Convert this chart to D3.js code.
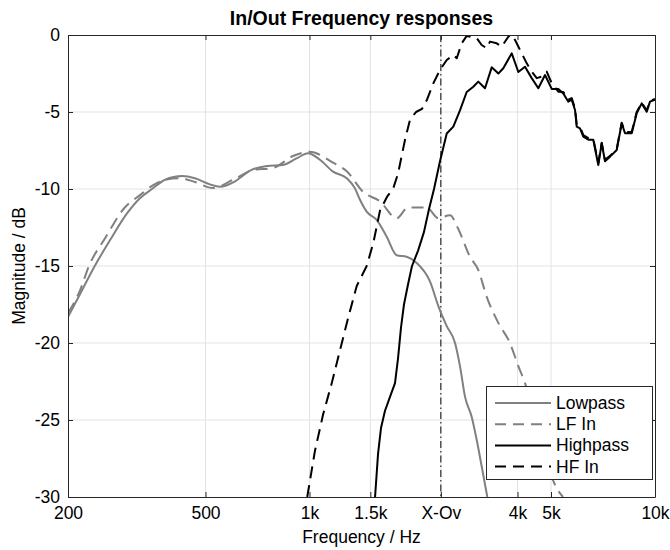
<!DOCTYPE html>
<html><head><meta charset="utf-8">
<script src="https://cdn.jsdelivr.net/npm/d3@7"></script>
<style>
body{margin:0;background:#fff;}
text{font-family:"Liberation Sans",Arial,Helvetica,sans-serif;}
</style></head>
<body><svg id="chart" width="670" height="550"></svg>
<script>
// ---- data ----
const xTickValues = [200, 500, 1000, 1500, 2400, 4000, 5000, 10000];
const xTickLabels = ["200", "500", "1k", "1.5k", "X-Ov", "4k", "5k", "10k"];
const yTickValues = [0, -5, -10, -15, -20, -25, -30];
const yTickLabels = ["0", "-5", "-10", "-15", "-20", "-25", "-30"];
const crossoverHz = 2400;

const lowpassHz = [200,217,239,265,296,323,350,382,428,466,515,551,609,673,753,838,920,990,1072,1170,1282,1354,1400,1464,1565,1673,1788,1911,2043,2232,2360,2496,2638,2726,2820,2948,3048,3150,3271];
const lowpassDb = [-18.3,-16.8,-15.0,-13.3,-11.6,-10.6,-10.0,-9.4,-9.16,-9.3,-9.7,-9.85,-9.5,-8.8,-8.5,-8.44,-8.0,-7.68,-8.1,-8.87,-9.3,-9.96,-10.7,-11.47,-12.0,-13.1,-14.3,-14.4,-14.8,-16.0,-17.6,-18.9,-20.0,-21.5,-23.5,-24.8,-26.3,-28.0,-30.0];

const lfInHz = [200,217,230,256,292,323,350,382,422,466,526,601,686,784,896,1000,1170,1284,1431,1600,1788,1928,2184,2360,2550,2696,2914,3080,3258,3521,3803,4022,4205,4436,4679,4936,5171,5417];
const lfInDb = [-18.05,-16.55,-15.0,-13.2,-11.2,-10.4,-9.8,-9.4,-9.3,-9.55,-9.94,-9.4,-8.77,-8.64,-7.86,-7.58,-8.29,-8.87,-10.2,-10.8,-11.9,-11.2,-11.2,-11.9,-11.7,-12.6,-14.4,-15.26,-17.0,-18.7,-20.0,-21.5,-22.6,-24.2,-26.3,-28.2,-29.35,-30.0];

const highpassHz = [1548,1579,1611,1654,1710,1768,1804,1840,1877,1928,1980,2062,2144,2218,2293,2386,2496,2608,2726,2851,2980,3080,3221,3368,3521,3639,3849,4022,4205,4397,4595,4805,5024,5250,5428,5612,5740,5868,5935,6066,6202,6412,6628,6853,7010,7167,7410,7748,8010,8190,8564,8851,9152,9464,9672,10000];
const highpassDb = [-30,-27.2,-25.5,-24.4,-23.5,-22.6,-21.0,-19.0,-17.5,-16.2,-15.0,-14.0,-12.8,-11.3,-10.0,-8.2,-6.4,-5.95,-4.9,-3.7,-3.36,-3.03,-3.46,-2.1,-2.5,-2.16,-1.19,-2.4,-2.06,-2.8,-3.46,-2.6,-3.5,-3.5,-3.8,-4.33,-4.2,-4.87,-5.95,-6.06,-6.6,-6.8,-6.8,-8.44,-7.03,-8.2,-7.9,-7.47,-5.73,-6.38,-6.38,-5.08,-4.44,-4.98,-4.33,-4.2];

const hfInHz = [985,1037,1096,1160,1226,1296,1370,1464,1530,1600,1677,1745,1804,1890,1954,2034,2116,2188,2282,2386,2496,2608,2668,2758,2851,3048,3150,3258,3330,3482,3600,3762,3849,3978,4114,4254,4397,4546,4700,4860,5024,5250,5428,5612,5740,5868,5935,6066,6202,6412,6628,6853,7010,7167,7410,7748,8010,8190,8564,8851,9152,9464,9672,10000];
const hfInDb = [-30,-27.0,-24.6,-22.6,-20.45,-18.3,-16.3,-15.0,-13.5,-11.4,-10.5,-10.0,-9.0,-6.8,-5.5,-5.0,-4.8,-4.2,-3.14,-2.27,-1.62,-1.3,-1.51,-0.54,-0.06,-0.2,-0.65,-0.86,-0.43,-0.54,-0.76,-0.11,0.1,-0.54,-1.19,-1.84,-2.38,-2.8,-2.7,-2.38,-3.14,-3.68,-3.7,-4.2,-4.1,-4.75,-5.8,-5.95,-6.5,-6.7,-6.75,-8.3,-7.0,-8.1,-7.85,-7.4,-5.7,-6.3,-6.3,-5.0,-4.4,-4.9,-4.3,-4.15];

const seriesNames = ["Lowpass", "LF In", "Highpass", "HF In"];
const seriesColors = ["#808080", "#808080", "#000000", "#000000"];
const seriesDash = [null, "12,7", null, "12,7"];

// ---- layout ----
const svg = d3.select("#chart");
const L = 68, R = 655, T = 35, B = 497;
const x = d3.scaleLog().domain([200, 10000]).range([L, R]);
const y = d3.scaleLinear().domain([-30, 0]).range([B, T]);
const axisColor = "#262626";
const FS = "17.5px";

svg.append("defs").append("clipPath").attr("id", "clip")
  .append("rect").attr("x", L).attr("y", T).attr("width", R - L).attr("height", B - T);

// grid
const grid = svg.append("g");
grid.selectAll(".vg").data(xTickValues.filter(v => v > 200 && v < 10000)).join("line")
  .attr("x1", d => x(d)).attr("x2", d => x(d)).attr("y1", T).attr("y2", B)
  .attr("stroke", "#e3e3e3").attr("stroke-width", 1);
grid.selectAll(".hg").data(yTickValues.filter(v => v > -30 && v < 0)).join("line")
  .attr("x1", L).attr("x2", R).attr("y1", d => y(d)).attr("y2", d => y(d))
  .attr("stroke", "#e3e3e3").attr("stroke-width", 1);

// crossover line
svg.append("line").attr("x1", x(crossoverHz)).attr("x2", x(crossoverHz))
  .attr("y1", T).attr("y2", B).attr("stroke", "#000").attr("stroke-width", 1)
  .attr("stroke-dasharray", "7,3,1.5,3");

// series
const allHz = [lowpassHz, lfInHz, highpassHz, hfInHz];
const allDb = [lowpassDb, lfInDb, highpassDb, hfInDb];
const plot = svg.append("g").attr("clip-path", "url(#clip)");
allHz.forEach((hz, i) => {
  const pts = hz.map((f, j) => [f, allDb[i][j]]);
  const line = d3.line().x(d => x(d[0])).y(d => y(d[1]))
    .curve(i < 2 ? d3.curveMonotoneX : d3.curveLinear);
  plot.append("path").datum(pts).attr("d", line)
    .attr("fill", "none").attr("stroke", seriesColors[i]).attr("stroke-width", 2)
    .attr("stroke-linejoin", "round")
    .attr("stroke-dasharray", seriesDash[i]);
});

// axes
const fmtX = d => xTickLabels[xTickValues.indexOf(d)];
const fmtY = d => yTickLabels[yTickValues.indexOf(d)];
const xAxisB = d3.axisBottom(x).tickValues(xTickValues).tickFormat(fmtX).tickSizeInner(-5).tickSizeOuter(0).tickPadding(10);
const xAxisT = d3.axisTop(x).tickValues(xTickValues).tickFormat("").tickSizeInner(-5).tickSizeOuter(0);
const yAxisL = d3.axisLeft(y).tickValues(yTickValues).tickFormat(fmtY).tickSizeInner(-5).tickSizeOuter(0).tickPadding(8);
const yAxisR = d3.axisRight(y).tickValues(yTickValues).tickFormat("").tickSizeInner(-5).tickSizeOuter(0);

function style(g) {
  g.select(".domain").attr("stroke", axisColor);
  g.selectAll(".tick line").attr("stroke", axisColor);
  g.selectAll(".tick text").attr("fill", "#000").style("font-size", FS)
    .style("font-family", "'Liberation Sans',Arial,sans-serif");
}
svg.append("g").attr("transform", `translate(0,${B})`).call(xAxisB).call(style);
svg.append("g").attr("transform", `translate(0,${T})`).call(xAxisT).call(style);
svg.append("g").attr("transform", `translate(${L},0)`).call(yAxisL).call(style);
svg.append("g").attr("transform", `translate(${R},0)`).call(yAxisR).call(style);

// titles
svg.append("text").attr("x", (L + R) / 2).attr("y", 25).attr("text-anchor", "middle")
  .style("font-size", "19.5px").style("font-weight", "bold").text("In/Out Frequency responses");
svg.append("text").attr("x", (L + R) / 2).attr("y", 543).attr("text-anchor", "middle")
  .style("font-size", FS).text("Frequency / Hz");
svg.append("text").attr("transform", `translate(25,${(T + B) / 2}) rotate(-90)`)
  .attr("text-anchor", "middle").style("font-size", FS).text("Magnitude / dB");

// legend
const lg = svg.append("g");
lg.append("rect").attr("x", 486.5).attr("y", 386.5).attr("width", 166).attr("height", 93)
  .attr("fill", "#fff").attr("stroke", axisColor).attr("stroke-width", 1);
seriesNames.forEach((n, i) => {
  const yy = 403 + i * 21.2;
  lg.append("line").attr("x1", 495).attr("x2", 551).attr("y1", yy).attr("y2", yy)
    .attr("stroke", seriesColors[i]).attr("stroke-width", 2)
    .attr("stroke-dasharray", seriesDash[i] ? "11,7" : null);
  lg.append("text").attr("x", 556).attr("y", yy + 6).style("font-size", FS).text(n);
});
</script></body></html>
